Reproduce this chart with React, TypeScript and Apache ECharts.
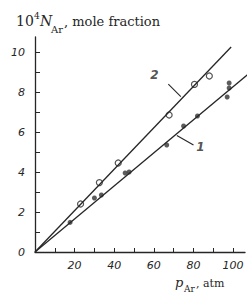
import React, { useEffect, useRef } from "react";
import * as echarts from "echarts";

const line1Points: number[][] = [
  [17.7, 1.48], [30, 2.7], [33.5, 2.85], [45.5, 3.95], [47.5, 4.0],
  [66.5, 5.35], [75, 6.3], [82, 6.8], [97, 7.75], [98, 8.2], [98, 8.45],
];
const line2Points: number[][] = [
  [23, 2.4], [32.5, 3.47], [42, 4.45], [67.7, 6.85], [80.5, 8.38], [88, 8.8],
];
const fit1: number[][] = [[0, 0], [108.5, 8.97]];
const fit2: number[][] = [[0, 0], [99, 10.25]];
const leader1: number[][] = [[71.6, 5.82], [80, 5.35]];
const leader2: number[][] = [[67.3, 8.39], [73.6, 7.77]];
const curveLabels: { value: number[]; name: string }[] = [
  { value: [83.5, 5.25], name: "1" },
  { value: [60.3, 8.85], name: "2" },
];
const xTicks = [10, 20, 30, 40, 50, 60, 70, 80, 90, 100];
const xLabels = [20, 40, 60, 80, 100];
const yTicks = [1, 2, 3, 4, 5, 6, 7, 8, 9, 10];
const yLabels = [0, 2, 4, 6, 8, 10];

const INK = "#262626";

export default function App() {
  const ref = useRef<HTMLDivElement>(null);
  useEffect(() => {
    if (!ref.current) return;
    document.body.style.margin = "0";
    const chart = echarts.init(ref.current, null, { renderer: "svg" });
    const tickFont = {
      fontFamily: "DejaVu Sans",
      fontStyle: "italic" as const,
      fontSize: 11,
      color: INK,
    };
    chart.setOption({
      animation: false,
      backgroundColor: "#ffffff",
      grid: { left: 35, top: 37, width: 210, height: 215 },
      xAxis: {
        type: "value",
        min: 0,
        max: 106,
        interval: 10,
        axisLine: { lineStyle: { color: INK, width: 1.3 } },
        axisTick: { inside: true, length: 4, customValues: xTicks, lineStyle: { color: INK, width: 1 } },
        axisLabel: {
          ...tickFont,
          margin: 8,
          customValues: xLabels,
          formatter: (v: number) => (xLabels.includes(v) ? String(v) : ""),
        },
        splitLine: { show: false },
      },
      yAxis: {
        type: "value",
        min: 0,
        max: 10.75,
        interval: 1,
        axisLine: { show: true, lineStyle: { color: INK, width: 1.3 } },
        axisTick: { show: true, inside: true, length: 5, customValues: yTicks, lineStyle: { color: INK, width: 1 } },
        axisLabel: {
          ...tickFont,
          margin: 10,
          customValues: yLabels,
          formatter: (v: number) => (yLabels.includes(v) ? String(v) : ""),
        },
        splitLine: { show: false },
      },
      graphic: [
        { type: "text", left: 16, top: 14, style: { text: "10", font: "14px 'DejaVu Serif'", fill: INK } },
        { type: "text", left: 34, top: 11, style: { text: "4", font: "9px 'DejaVu Serif'", fill: INK } },
        { type: "text", left: 40, top: 14, style: { text: "N", font: "italic 14px 'DejaVu Serif'", fill: INK } },
        { type: "text", left: 51, top: 24, style: { text: "Ar", font: "10px 'DejaVu Serif'", fill: INK } },
        { type: "text", left: 64, top: 15, style: { text: ", mole fraction", font: "13px 'DejaVu Serif'", fill: INK } },
        { type: "text", left: 175, top: 276, style: { text: "p", font: "italic 13px 'DejaVu Serif'", fill: INK } },
        { type: "text", left: 184, top: 284, style: { text: "Ar", font: "9px 'DejaVu Serif'", fill: INK } },
        { type: "text", left: 196, top: 278, style: { text: ", atm", font: "11px 'DejaVu Serif'", fill: INK } },
      ],
      series: [
        {
          type: "line", data: fit1, symbol: "none", clip: false, silent: true,
          lineStyle: { color: INK, width: 1.3 },
        },
        {
          type: "line", data: fit2, symbol: "none", clip: false, silent: true,
          lineStyle: { color: INK, width: 1.3 },
        },
        {
          type: "line", data: leader1, symbol: "none", clip: false, silent: true,
          lineStyle: { color: INK, width: 1.1 },
        },
        {
          type: "line", data: leader2, symbol: "none", clip: false, silent: true,
          lineStyle: { color: INK, width: 1.1 },
        },
        {
          type: "scatter", data: line1Points, symbol: "circle", symbolSize: 5, clip: false,
          itemStyle: { color: "#333333" },
        },
        {
          type: "scatter", data: line2Points, symbol: "circle", symbolSize: 6, clip: false,
          itemStyle: { color: "#ffffff", borderColor: INK, borderWidth: 1.2 },
        },
        {
          type: "scatter", data: curveLabels, symbolSize: 0, clip: false,
          label: {
            show: true, position: "inside", formatter: (p: any) => p.name,
            fontFamily: "DejaVu Sans", fontStyle: "italic", fontSize: 12, fontWeight: "bold", color: INK,
          },
        },
      ],
    });
    return () => chart.dispose();
  }, []);
  return <div ref={ref} style={{ width: 248, height: 295 }} />;
}
